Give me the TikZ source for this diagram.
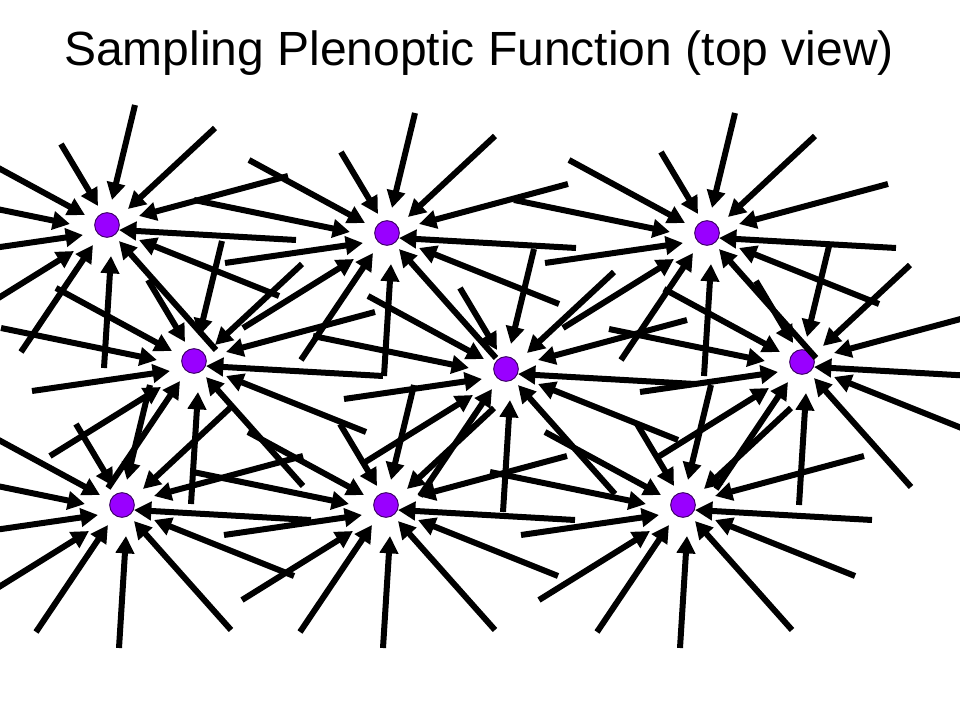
\documentclass[tikz,border=0pt]{standalone}
\usepackage{fontspec}
\setmainfont{Liberation Sans}
\usetikzlibrary{arrows.meta}

\definecolor{dotfill}{HTML}{9900FF}
\definecolor{dotline}{HTML}{3D0066}

\begin{document}
\begin{tikzpicture}[x=0.75pt, y=-0.75pt]
\tikzset{ >={Triangle[length=13pt,width=13.5pt]},
  dot/.style={circle, fill=dotfill, draw=dotline, line width=0.75pt, minimum size=18.5pt, inner sep=0pt},
  ray/.style={->, line width=4.5pt, black},
}

\clip (0,0) rectangle (960,720);

% titulo
\node [anchor=base, font=\fontsize{36}{42}\selectfont] (title) at (479,66) {Sampling Plenoptic Function (top view)};

% pontos de amostragem
\foreach \n/\x/\y in {TL/107/225, TM/387/233, TR/707/233,
                      ML/194/361, MM/506/369, MR/802/362,
                      BL/122/505, BM/386/505, BR/683/505}
  \node [dot] (\n) at (\x,\y) {};

% raios chegando em cada ponto
\foreach \n in {TL,TM,TR,ML,MM,MR,BL,BM,BR}
  \foreach \i/\sx/\sy/\tx/\ty in {1/28/-120/5/-25,    2/108/-97/21/-16,
                                  3/-46/-81/-9/-19,   4/-138/-73/-22/-10,
                                  5/-193/-33/-37/-1,  6/-162/30/-24/10,
                                  7/-144/95/-33/26,   8/-86/127/-14/20,
                                  9/-3/143/4/31,      10/109/125/12/16,
                                  11/172/71/32/15,    12/189/15/12/5,
                                  13/181/-49/32/-9}
  {
    \coordinate (\n-s\i) at ([shift={(\sx,\sy)}]\n.center);
    \coordinate (\n-t\i) at ([shift={(\tx,\ty)}]\n.center);
    \draw [ray] (\n-s\i) -- (\n-t\i);
  }

\end{tikzpicture}
\end{document}
